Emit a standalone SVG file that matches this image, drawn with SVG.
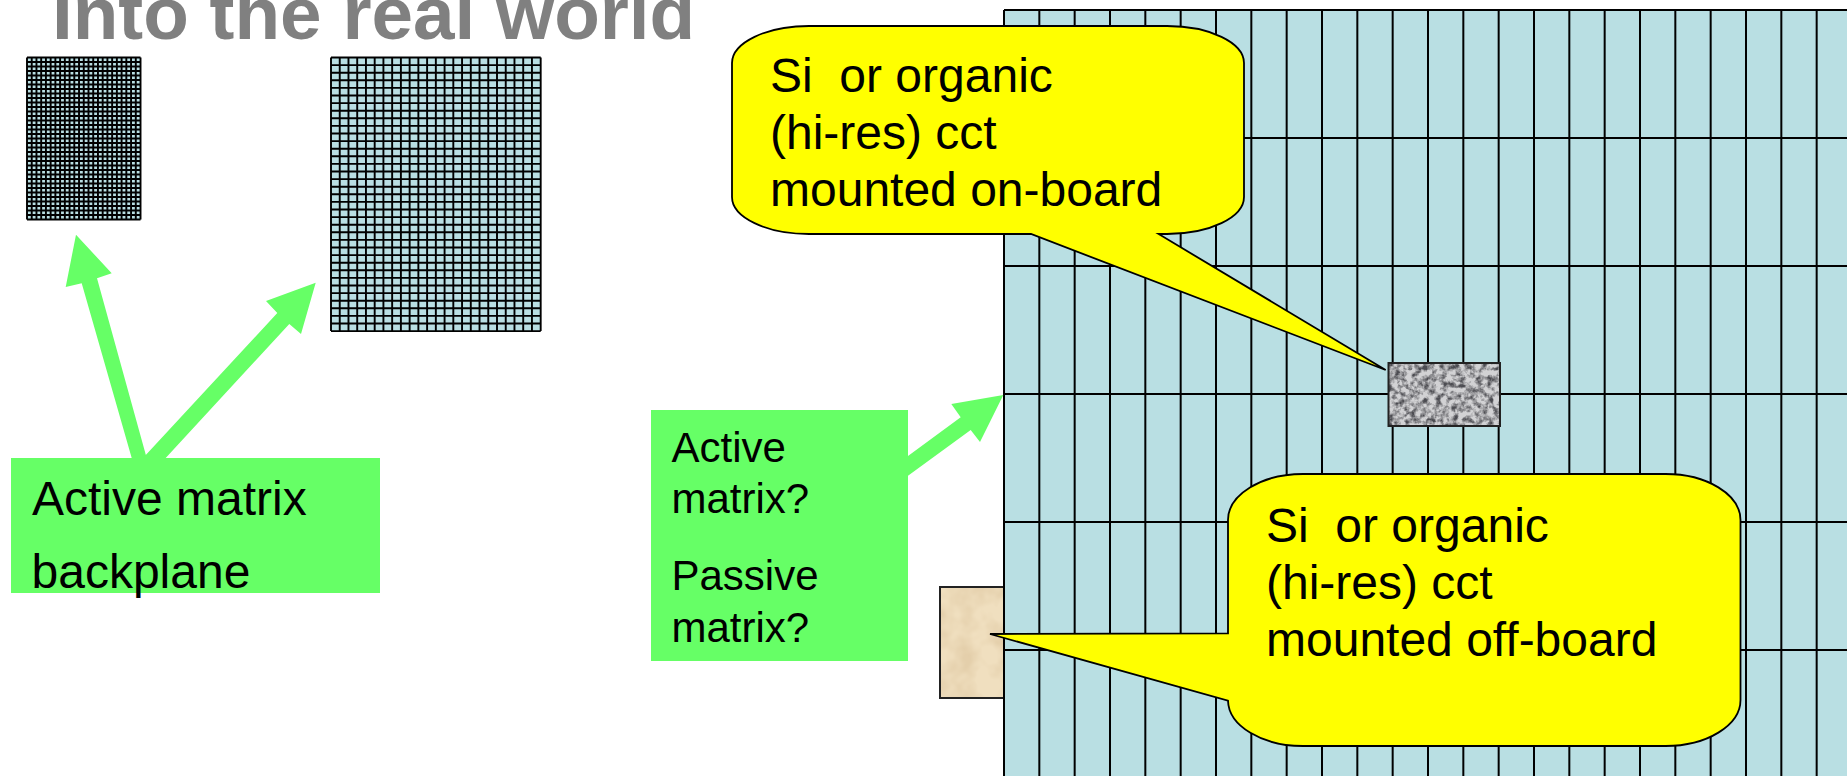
<svg xmlns="http://www.w3.org/2000/svg" width="1847" height="776" viewBox="0 0 1847 776">
<style>
text{font-family:"Liberation Sans",Arial,sans-serif;fill:#000;white-space:pre}
.t48{font-size:48px}
.t42{font-size:42px}
.title{font-size:74.7px;font-weight:bold;fill:#808080}
.green{fill:#66ff66}
.callout{fill:#ffff00;stroke:#000;stroke-width:1.8;stroke-linejoin:miter}
.gl{fill:none;stroke:#000;stroke-width:1.9}
.gr{fill:none;stroke:#000;stroke-width:2}
.frame{fill:none;stroke:#222;stroke-width:2}
</style>
<defs>
<filter id="granite" x="0" y="0" width="1" height="1" color-interpolation-filters="sRGB">
<feTurbulence type="fractalNoise" baseFrequency="0.17" numOctaves="3" seed="4"/>
<feColorMatrix type="matrix" values="0 0 0 0 0.3  0 0 0 0 0.3  0 0 0 0 0.32  2 2 0 0 -1.7"/>
<feComposite in2="SourceGraphic" operator="over"/>
</filter>
<filter id="paper" x="0" y="0" width="1" height="1" color-interpolation-filters="sRGB">
<feTurbulence type="fractalNoise" baseFrequency="0.04" numOctaves="3" seed="9"/>
<feColorMatrix type="matrix" values="0 0 0 0 0.78 0 0 0 0 0.66 0 0 0 0 0.48 0.7 0 0 0 -0.25"/>
<feComposite in2="SourceGraphic" operator="over"/>
</filter>
</defs>
<rect width="1847" height="776" fill="#fff"/>
<text class="title" x="52" y="39">Into the real world</text>
<g id="grid-small">
<rect x="27" y="57.5" width="113.5" height="162" fill="#b9dfe3"/>
<path class="gl" d="M27 57.5v162
m4.73-162v162m4.73-162v162m4.73-162v162m4.73-162v162m4.73-162v162m4.73-162v162
m4.73-162v162m4.73-162v162m4.73-162v162m4.73-162v162m4.73-162v162m4.73-162v162
m4.73-162v162m4.73-162v162m4.73-162v162m4.73-162v162m4.73-162v162m4.73-162v162
m4.73-162v162m4.73-162v162m4.73-162v162m4.73-162v162m4.73-162v162m4.73-162v162"/>
<path class="gl" d="M27 57.5h113.5
m-113.5 4.5h113.5m-113.5 4.5h113.5m-113.5 4.5h113.5m-113.5 4.5h113.5m-113.5 4.5h113.5m-113.5 4.5h113.5
m-113.5 4.5h113.5m-113.5 4.5h113.5m-113.5 4.5h113.5m-113.5 4.5h113.5m-113.5 4.5h113.5m-113.5 4.5h113.5
m-113.5 4.5h113.5m-113.5 4.5h113.5m-113.5 4.5h113.5m-113.5 4.5h113.5m-113.5 4.5h113.5m-113.5 4.5h113.5
m-113.5 4.5h113.5m-113.5 4.5h113.5m-113.5 4.5h113.5m-113.5 4.5h113.5m-113.5 4.5h113.5m-113.5 4.5h113.5
m-113.5 4.5h113.5m-113.5 4.5h113.5m-113.5 4.5h113.5m-113.5 4.5h113.5m-113.5 4.5h113.5m-113.5 4.5h113.5
m-113.5 4.5h113.5m-113.5 4.5h113.5m-113.5 4.5h113.5m-113.5 4.5h113.5m-113.5 4.5h113.5m-113.5 4.5h113.5"/>
</g>
<g id="grid-medium">
<rect x="331" y="57.5" width="209.7" height="273.6" fill="#b9dfe3"/>
<path class="gl" d="M331 57.5v273.6
m8.737-273.6v273.6m8.737-273.6v273.6m8.737-273.6v273.6m8.737-273.6v273.6m8.737-273.6v273.6m8.737-273.6v273.6
m8.737-273.6v273.6m8.737-273.6v273.6m8.737-273.6v273.6m8.737-273.6v273.6m8.737-273.6v273.6m8.737-273.6v273.6
m8.737-273.6v273.6m8.737-273.6v273.6m8.737-273.6v273.6m8.737-273.6v273.6m8.737-273.6v273.6m8.737-273.6v273.6
m8.737-273.6v273.6m8.737-273.6v273.6m8.737-273.6v273.6m8.737-273.6v273.6m8.737-273.6v273.6m8.737-273.6v273.6"/>
<path class="gl" d="M331 57.5h209.7
m-209.7 7.6h209.7m-209.7 7.6h209.7m-209.7 7.6h209.7m-209.7 7.6h209.7m-209.7 7.6h209.7m-209.7 7.6h209.7
m-209.7 7.6h209.7m-209.7 7.6h209.7m-209.7 7.6h209.7m-209.7 7.6h209.7m-209.7 7.6h209.7m-209.7 7.6h209.7
m-209.7 7.6h209.7m-209.7 7.6h209.7m-209.7 7.6h209.7m-209.7 7.6h209.7m-209.7 7.6h209.7m-209.7 7.6h209.7
m-209.7 7.6h209.7m-209.7 7.6h209.7m-209.7 7.6h209.7m-209.7 7.6h209.7m-209.7 7.6h209.7m-209.7 7.6h209.7
m-209.7 7.6h209.7m-209.7 7.6h209.7m-209.7 7.6h209.7m-209.7 7.6h209.7m-209.7 7.6h209.7m-209.7 7.6h209.7
m-209.7 7.6h209.7m-209.7 7.6h209.7m-209.7 7.6h209.7m-209.7 7.6h209.7m-209.7 7.6h209.7m-209.7 7.6h209.7"/>
</g>
<g id="beige-chip">
<rect x="940" y="587" width="64" height="111" fill="#f0dfbf" filter="url(#paper)"/>
<rect class="frame" x="940" y="587" width="64" height="111"/>
</g>
<g id="grid-large">
<rect x="1004" y="10" width="843" height="766" fill="#b9dfe3"/>
<path class="gr" d="M1004 10V776M1039.33 10V776M1074.67 10V776M1110 10V776M1145.33 10V776M1180.67 10V776M1216 10V776M1251.33 10V776M1286.67 10V776M1322 10V776M1357.33 10V776M1392.67 10V776M1428 10V776M1463.33 10V776M1498.67 10V776M1534 10V776M1569.33 10V776M1604.67 10V776M1640 10V776M1675.33 10V776M1710.67 10V776M1746 10V776M1781.33 10V776M1816.67 10V776"/>
<path class="gr" d="M1004 10H1847M1004 138H1847M1004 266H1847M1004 394H1847M1004 522H1847M1004 650H1847"/>
</g>
<g id="connectors">
<polygon class="green" points="76,234.7 111.7,273.3 97,278.3 146.7,458 131.7,458 81.7,283.3 65.7,287"/>
<polygon class="green" points="315.7,282.7 301,334 289.3,324 165.7,458 143,458 277.3,313 266,301"/>
<polygon class="green" points="1003.3,395 980,442 970.7,430 908,475.7 908,456 960.7,417.3 951.3,404"/>
</g>
<g id="granite-chip">
<rect x="1388.5" y="363" width="111.5" height="63" fill="#d2d2d4" filter="url(#granite)"/>
<rect class="frame" x="1388.5" y="363" width="111.5" height="63"/>
</g>
<g id="box-backplane">
<rect class="green" x="11" y="458" width="369" height="135"/>
<text class="t48" x="32" y="515">Active matrix</text>
<text class="t48" x="31.5" y="588">backplane</text>
</g>
<g id="box-matrix">
<rect class="green" x="651" y="410" width="257" height="251"/>
<text class="t42" x="671.5" y="462">Active</text>
<text class="t42" x="671.5" y="513">matrix?</text>
<text class="t42" x="671.5" y="590">Passive</text>
<text class="t42" x="671.5" y="642">matrix?</text>
</g>
<g id="callout-onboard">
<path class="callout" d="M809 26H1167A77 37 0 0 1 1244 63V197A77 37 0 0 1 1167 234H1158.6L1385.7 370L1031 234H809A77 37 0 0 1 732 197V63A77 37 0 0 1 809 26Z"/>
<text class="t48" x="770" y="91.6">Si  or organic</text>
<text class="t48" x="770" y="148.8">(hi-res) cct</text>
<text class="t48" x="770" y="206">mounted on-board</text>
</g>
<g id="callout-offboard">
<path class="callout" d="M1303 474H1665A75 46 0 0 1 1740.5 520V700A75 46 0 0 1 1665 746H1303A75 46 0 0 1 1228 700.7L990 634L1228 633.3V520A75 46 0 0 1 1303 474Z"/>
<text class="t48" x="1266" y="541.6">Si  or organic</text>
<text class="t48" x="1266" y="598.8">(hi-res) cct</text>
<text class="t48" x="1266" y="656">mounted off-board</text>
</g>
</svg>
